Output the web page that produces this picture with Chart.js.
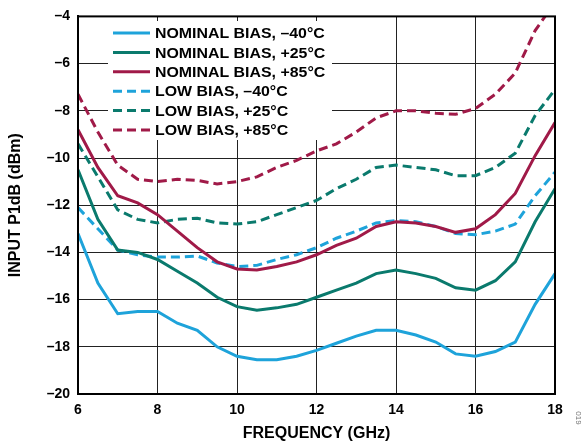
<!DOCTYPE html>
<html>
<head>
<meta charset="utf-8">
<script src="https://cdn.jsdelivr.net/npm/chart.js@4/dist/chart.umd.min.js"></script>
<style>
  html, body { margin: 0; padding: 0; background: #fff; }
  #wrap { width: 587px; height: 446px; }
</style>
</head>
<body>
<div id="wrap"><canvas id="p1dbChart" width="587" height="446"></canvas></div>
<script>
const freqGHz = [6, 6.5, 7, 7.5, 8, 8.5, 9, 9.5, 10, 10.5, 11, 11.5, 12, 12.5, 13, 13.5, 14, 14.5, 15, 15.5, 16, 16.5, 17, 17.5, 18];

const nominalMinus40 = [-13.2, -15.3, -16.6, -16.5, -16.5, -17.0, -17.3, -18.0, -18.4, -18.55, -18.55, -18.4, -18.15, -17.85, -17.55, -17.3, -17.3, -17.5, -17.8, -18.3, -18.4, -18.2, -17.8, -16.2, -14.9];
const nominalPlus25 = [-10.5, -12.6, -13.9, -14.0, -14.3, -14.8, -15.3, -15.9, -16.3, -16.45, -16.35, -16.2, -15.9, -15.6, -15.3, -14.9, -14.75, -14.9, -15.1, -15.5, -15.6, -15.2, -14.4, -12.7, -11.3];
const nominalPlus85 = [-8.8, -10.4, -11.6, -11.9, -12.4, -13.1, -13.8, -14.4, -14.7, -14.75, -14.6, -14.4, -14.1, -13.7, -13.4, -12.9, -12.7, -12.75, -12.9, -13.15, -13.0, -12.4, -11.5, -9.9, -8.5];
const lowMinus40 = [-12.1, -13.0, -13.9, -14.1, -14.2, -14.2, -14.15, -14.45, -14.6, -14.55, -14.3, -14.1, -13.8, -13.4, -13.1, -12.75, -12.65, -12.7, -12.9, -13.2, -13.25, -13.1, -12.8, -11.6, -10.6];
const lowPlus25 = [-9.4, -10.8, -12.2, -12.6, -12.75, -12.6, -12.55, -12.75, -12.8, -12.7, -12.4, -12.1, -11.8, -11.3, -10.9, -10.4, -10.3, -10.4, -10.5, -10.75, -10.75, -10.4, -9.8, -8.2, -7.1];
const lowPlus85 = [-7.3, -8.9, -10.3, -10.9, -11.0, -10.9, -10.95, -11.1, -11.0, -10.8, -10.4, -10.1, -9.7, -9.4, -8.9, -8.3, -8.0, -8.0, -8.1, -8.15, -7.9, -7.3, -6.4, -4.6, -3.4];

const seriesLabels = ['NOMINAL BIAS, \u201340°C', 'NOMINAL BIAS, +25°C', 'NOMINAL BIAS, +85°C',
                      'LOW BIAS, \u201340°C', 'LOW BIAS, +25°C', 'LOW BIAS, +85°C'];
const seriesValues = [nominalMinus40, nominalPlus25, nominalPlus85, lowMinus40, lowPlus25, lowPlus85];

const BLUE = '#1ea3da';
const TEAL = '#0a7a6d';
const MAROON = '#a01a48';
const colors = [BLUE, TEAL, MAROON, BLUE, TEAL, MAROON];
const DASH = [9, 5];

const FONT = '"Liberation Sans", Arial, Helvetica, sans-serif';

const datasets = seriesValues.map((vals, i) => ({
  label: seriesLabels[i],
  data: vals.map((v, j) => ({ x: freqGHz[j], y: v })),
  borderColor: colors[i],
  backgroundColor: colors[i],
  borderWidth: 3,
  borderDash: i >= 3 ? DASH : [],
  pointRadius: 0,
  tension: 0,
  fill: false,
  clip: 0
}));

// legend box sitting inside the plot, drawn under the curves
const insideLegend = {
  id: 'insideLegend',
  beforeDatasetsDraw(chart) {
    const ctx = chart.ctx;
    ctx.save();
    ctx.fillStyle = '#fff';
    ctx.fillRect(108, 21, 224, 119);
    ctx.textBaseline = 'middle';
    chart.data.datasets.forEach((ds, i) => {
      const y = 33 + i * 19.4;
      ctx.strokeStyle = ds.borderColor;
      ctx.lineWidth = 3;
      ctx.setLineDash(ds.borderDash);
      ctx.beginPath();
      ctx.moveTo(113, y);
      ctx.lineTo(150, y);
      ctx.stroke();
      ctx.setLineDash([]);
      ctx.save();
      ctx.translate(155, y + 1);
      ctx.scale(1.06, 1);
      ctx.font = 'bold 15px ' + FONT;
      ctx.fillStyle = '#000';
      ctx.fillText(ds.label, 0, 0);
      ctx.restore();
    });
    ctx.restore();
  },
  afterDraw(chart) {
    const { ctx, chartArea: a } = chart;
    ctx.save();
    ctx.strokeStyle = '#000';
    ctx.lineWidth = 2;
    ctx.strokeRect(a.left, a.top, a.right - a.left, a.bottom - a.top);
    ctx.translate(578, 418);
    ctx.rotate(Math.PI / 2);
    ctx.font = '8px ' + FONT;
    ctx.fillStyle = '#777';
    ctx.textAlign = 'center';
    ctx.textBaseline = 'middle';
    ctx.fillText('019', 0, 0);
    ctx.restore();
  }
};

new Chart(document.getElementById('p1dbChart').getContext('2d'), {
  type: 'line',
  data: { datasets },
  options: {
    responsive: false,
    animation: false,
    layout: { padding: { left: 6, right: 32, top: 13, bottom: 0 } },
    plugins: {
      legend: { display: false },
      tooltip: { enabled: false }
    },
    scales: {
      x: {
        type: 'linear',
        min: 6,
        max: 18,
        afterFit: s => { s.height = 52; },
        ticks: {
          stepSize: 2,
          padding: 8,
          color: '#000',
          font: { family: FONT, size: 14, weight: 'bold' }
        },
        grid: { color: '#222', lineWidth: 1, drawTicks: false },
        border: { color: '#000', width: 2 },
        title: {
          display: true,
          text: 'FREQUENCY (GHz)',
          color: '#000',
          font: { family: FONT, size: 16, weight: 'bold' },
          padding: { top: 4, bottom: 3 }
        }
      },
      y: {
        min: -20,
        max: -4,
        afterFit: s => { s.width = 72; },
        ticks: {
          stepSize: 2,
          padding: 8,
          color: '#000',
          font: { family: FONT, size: 14, weight: 'bold' },
          callback: v => String(v).replace('-', '\u2013')
        },
        grid: { color: '#222', lineWidth: 1, drawTicks: false },
        border: { color: '#000', width: 2 },
        title: {
          display: true,
          text: 'INPUT P1dB (dBm)',
          color: '#000',
          font: { family: FONT, size: 16, weight: 'bold' },
          padding: { top: 0, bottom: 4 }
        }
      }
    }
  },
  plugins: [insideLegend]
});
</script>
</body>
</html>
